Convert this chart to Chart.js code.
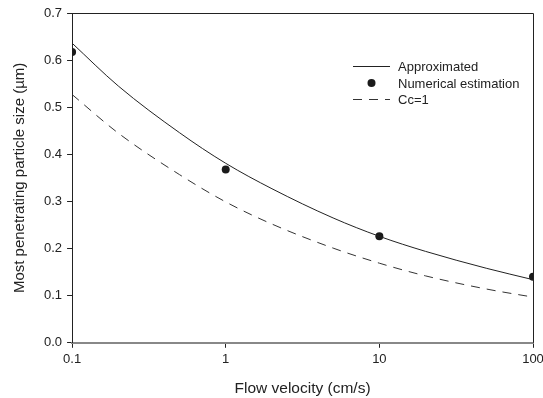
<!DOCTYPE html>
<html>
<head>
<meta charset="utf-8">
<script src="https://cdn.jsdelivr.net/npm/chart.js@4.4.1/dist/chart.umd.min.js"></script>
<style>
  html, body { margin: 0; padding: 0; background: #fff; }
  #wrap { width: 543px; height: 398px; }
</style>
</head>
<body>
<div id="wrap"><canvas id="chart" width="543" height="398"></canvas></div>
<script>
// flow velocity (cm/s) and particle sizes (um)
const velocity = [0.1, 0.2, 0.5, 1, 2, 5, 10, 20, 50, 100];
const approximated = [0.636, 0.545, 0.446, 0.381, 0.327, 0.265, 0.226, 0.194, 0.158, 0.134];
const ccOne = [0.527, 0.445, 0.357, 0.299, 0.252, 0.201, 0.169, 0.142, 0.114, 0.097];
const numVelocity = [0.1, 1, 10, 100];
const numerical = [0.617, 0.368, 0.226, 0.140];
const xTicks = [0.1, 1, 10, 100];
const yTicks = [0, 0.1, 0.2, 0.3, 0.4, 0.5, 0.6, 0.7];

const FONT = "'Liberation Sans', Arial, sans-serif";

// box around the plot + legend inside the top right
const frame = {
    id: 'frame',
    afterDatasetsDraw(chart) {
        const { ctx, chartArea: a } = chart;
        ctx.save();
        ctx.strokeStyle = '#222';
        ctx.lineWidth = 1;
        ctx.beginPath();
        ctx.moveTo(a.left, a.top + 0.5);
        ctx.lineTo(a.right + 0.5, a.top + 0.5);
        ctx.lineTo(a.right + 0.5, a.bottom);
        ctx.stroke();

        // legend
        const lx = 353, tx = 398;
        const rows = [66, 83, 99];
        ctx.font = '13px ' + FONT;
        ctx.textBaseline = 'middle';
        chart.data.datasets.forEach((ds, i) => {
            const y = rows[i];
            if (ds.showLine === false) {
                ctx.beginPath();
                ctx.arc(lx + 18.5, y, 4, 0, Math.PI * 2);
                ctx.fillStyle = ds.pointBackgroundColor;
                ctx.fill();
            } else {
                ctx.beginPath();
                ctx.setLineDash(ds.borderDash || []);
                ctx.strokeStyle = ds.borderColor;
                ctx.lineWidth = 1;
                ctx.moveTo(lx, y + 0.5);
                ctx.lineTo(lx + 37, y + 0.5);
                ctx.stroke();
                ctx.setLineDash([]);
            }
            ctx.fillStyle = '#222';
            ctx.fillText(ds.label, tx, y + 1);
        });
        ctx.restore();
    }
};

new Chart(document.getElementById('chart'), {
    type: 'line',
    data: {
        datasets: [{
            label: 'Approximated',
            data: velocity.map((v, i) => ({ x: v, y: approximated[i] })),
            borderColor: '#222',
            borderWidth: 1,
            pointRadius: 0,
            cubicInterpolationMode: 'monotone',
            fill: false
        }, {
            label: 'Numerical estimation',
            data: numVelocity.map((v, i) => ({ x: v, y: numerical[i] })),
            showLine: false,
            pointRadius: 4,
            pointBackgroundColor: '#1a1a1a',
            pointBorderColor: '#1a1a1a',
            pointBorderWidth: 0
        }, {
            label: 'Cc=1',
            data: velocity.map((v, i) => ({ x: v, y: ccOne[i] })),
            borderColor: '#333',
            borderWidth: 1,
            borderDash: [9, 7],
            pointRadius: 0,
            cubicInterpolationMode: 'monotone',
            fill: false
        }]
    },
    options: {
        responsive: false,
        animation: false,
        layout: { padding: { top: 13, right: 0, left: 11, bottom: 0 } },
        plugins: {
            legend: { display: false },
            tooltip: { enabled: false }
        },
        scales: {
            x: {
                type: 'logarithmic',
                min: 0.1,
                max: 100,
                afterBuildTicks: (s) => { s.ticks = xTicks.map(v => ({ value: v })); },
                // let the "100" label run up to the edge like the original
                afterFit: (s) => { s.paddingRight = 10; },
                ticks: {
                    color: '#222',
                    font: { family: FONT, size: 13 },
                    padding: 4,
                    maxRotation: 0,
                    callback: (v) => String(v)
                },
                grid: {
                    display: true,
                    drawOnChartArea: false,
                    drawTicks: true,
                    tickLength: 5,
                    color: '#222'
                },
                border: { display: true, color: '#888', width: 2 },
                title: {
                    display: true,
                    text: 'Flow velocity (cm/s)',
                    color: '#222',
                    font: { family: FONT, size: 15.5 },
                    padding: { top: 8, bottom: 0 }
                }
            },
            y: {
                min: 0,
                max: 0.7,
                afterBuildTicks: (s) => { s.ticks = yTicks.map(v => ({ value: v })); },
                ticks: {
                    color: '#222',
                    font: { family: FONT, size: 13 },
                    padding: 5,
                    callback: (v) => v.toFixed(1)
                },
                grid: {
                    display: true,
                    drawOnChartArea: false,
                    drawTicks: true,
                    tickLength: 5,
                    color: '#222'
                },
                border: { display: true, color: '#222', width: 1 },
                title: {
                    display: true,
                    text: 'Most penetrating particle size (µm)',
                    color: '#222',
                    font: { family: FONT, size: 15 },
                    padding: { top: 0, bottom: 10 }
                }
            }
        }
    },
    plugins: [frame]
});
</script>
</body>
</html>
